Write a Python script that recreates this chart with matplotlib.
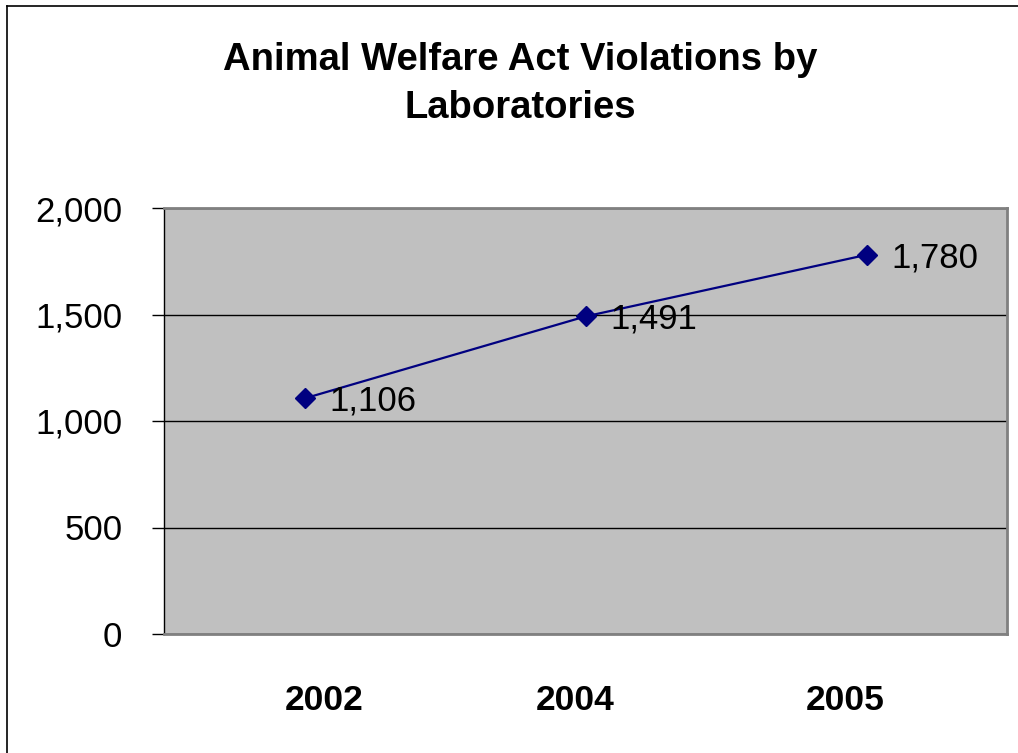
import matplotlib
matplotlib.use("Agg")
import matplotlib.pyplot as plt
from matplotlib.lines import Line2D
from matplotlib.ticker import FuncFormatter
from matplotlib.transforms import ScaledTranslation

plt.rcParams['font.family'] = ['Liberation Sans', 'DejaVu Sans']

years = ["2002", "2004", "2005"]
violations = [1106, 1491, 1780]
y_ticks = [0, 500, 1000, 1500, 2000]

fig = plt.figure(figsize=(10.18, 7.53), dpi=100)
ax = fig.add_axes([164 / 1018, 1 - 634 / 753, (1007 - 164) / 1018, (634 - 208) / 753])

ax.set_facecolor('#C0C0C0')
x = list(range(len(years)))
ax.plot(x, violations, color='#000080', linewidth=1.6, marker='D',
        markersize=10, markerfacecolor='#000080', markeredgecolor='#000080', zorder=3)

for xi, v in zip(x, violations):
    ax.annotate(f"{v:,}", (xi, v), xytext=(18, -2), textcoords='offset points',
                ha='left', va='center', fontsize=25, color='black', zorder=4)

ax.set_xlim(-0.5, len(years) - 0.5)
ax.set_ylim(0, 2000)
ax.set_yticks(y_ticks)
ax.yaxis.set_major_formatter(FuncFormatter(lambda v, p: f"{int(v):,}"))
ax.set_xticks(x)
ax.set_xticklabels(years, fontsize=25.5, fontweight='bold')
ax.tick_params(axis='x', length=0, pad=36)
ax.tick_params(axis='y', length=9, width=1, color='black', pad=21, labelsize=25)
ax.grid(axis='y', color='black', linewidth=1)
ax.set_axisbelow(True)

# category labels sit slightly toward the middle of the axis
for lbl, dx in zip(ax.get_xticklabels(), [0.2, -0.1, -0.21]):
    lbl.set_transform(lbl.get_transform() + ScaledTranslation(dx, 0, fig.dpi_scale_trans))

for side in ('top', 'right', 'bottom'):
    ax.spines[side].set_color('#808080')
    ax.spines[side].set_linewidth(2)
ax.spines['left'].set_color('black')
ax.spines['left'].set_linewidth(1)

fig.text(520 / 1018, 1 - 84 / 753, "Animal Welfare Act Violations by\nLaboratories",
         ha='center', va='center', fontsize=27.5, fontweight='bold', linespacing=1.4)

# chart frame
fig.add_artist(Line2D([7 / 1018, 7 / 1018], [0, 1 - 6 / 753], transform=fig.transFigure,
                      color='black', linewidth=1.2))
fig.add_artist(Line2D([7 / 1018, 1], [1 - 6 / 753, 1 - 6 / 753], transform=fig.transFigure,
                      color='black', linewidth=1.2))

fig.savefig("out.png", dpi=100)
